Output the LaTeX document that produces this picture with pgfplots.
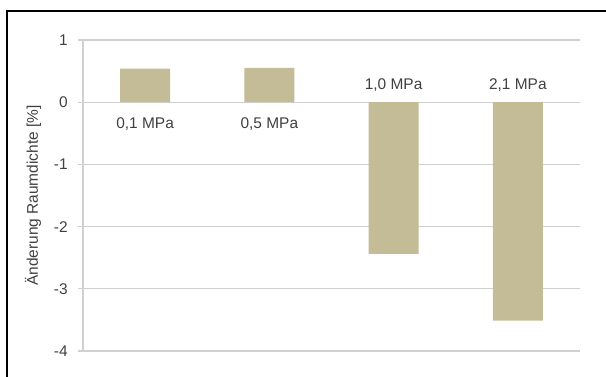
\documentclass[border=0pt]{standalone}
\usepackage{pgfplots}
\pgfplotsset{compat=1.18}
\usepackage{fontspec}
\setmainfont{Liberation Sans}
\definecolor{barc}{HTML}{C4BC96}
\definecolor{txt}{HTML}{404040}
\definecolor{gridc}{HTML}{D0D0D0}
\begin{document}
\begin{tikzpicture}
\useasboundingbox (0,0) rectangle (454.5pt,282pt);
\draw[line width=1.3pt,black] (5.25pt,-2pt) -- (5.25pt,273.75pt) -- (460pt,273.75pt);
\begin{axis}[
  at={(62.25pt,18.75pt)}, anchor=south west,
  scale only axis, width=372.75pt, height=233.25pt,
  xmin=-0.5, xmax=3.5, ymin=-4, ymax=1,
  ytick={-4,-3,-2,-1,0,1},
  xtick=\empty,
  ymajorgrids, grid style={gridc, line width=0.9pt},
  axis line style={gridc, line width=0.9pt},
  axis x line=none,
  axis y line*=left,
  y axis line style={-},
  tick align=outside, major tick length=3.75pt,
  ytick style={gridc, line width=0.9pt},
  font=\fontsize{11.6pt}{13pt}\selectfont,
  /pgf/number format/assume math mode=true,
  yticklabel style={txt, inner sep=0pt, xshift=-7.5pt},
  ylabel={Änderung Raumdichte [\%]},
  ylabel style={at={(axis description cs:0,0.5)}, anchor=center, yshift=37.5pt, txt, font=\fontsize{11.6pt}{13pt}\selectfont},
  clip=false,
]
\addplot[ybar, bar width=37.5pt, fill=barc, draw=none] coordinates {(0,0.54) (1,0.55) (2,-2.44) (3,-3.51)};
\addplot[draw=none, mark=none, nodes near coords, point meta=explicit symbolic,
  nodes near coords style={anchor=north, inner sep=0pt, yshift=-11.25pt, txt, font=\fontsize{11.6pt}{13pt}\selectfont}]
  coordinates {(0,0) [0,1 MPa] (1,0) [0,5 MPa]};
\addplot[draw=none, mark=none, nodes near coords, point meta=explicit symbolic,
  nodes near coords style={anchor=base, inner sep=0pt, yshift=9.75pt, txt, font=\fontsize{11.6pt}{13pt}\selectfont}]
  coordinates {(2,0) [1,0 MPa] (3,0) [2,1 MPa]};
\end{axis}
\end{tikzpicture}
\end{document}
